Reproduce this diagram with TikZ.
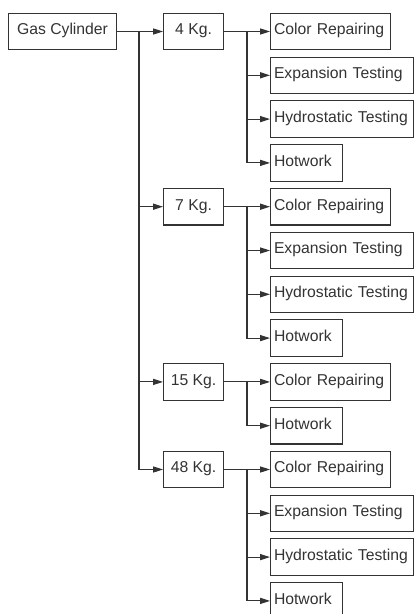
\documentclass[tikz,border=0pt]{standalone}
\usepackage{fontspec}
\setmainfont{Liberation Sans}
\usetikzlibrary{arrows.meta}
\definecolor{ink}{HTML}{333333}

\begin{document}
\begin{tikzpicture}[x=0.75pt, y=-0.75pt,
	font=\fontsize{11.8}{14}\selectfont, text=ink,
	box/.style={draw=ink, line width=0.8pt, minimum height=27.4pt, inner ysep=0pt, text height=0.72em, text depth=0.22em},
	root/.style={box, minimum width=81pt, anchor = west},
	kg/.style={box, minimum width=45pt, anchor = west},
	leaf/.style={box, anchor = west, inner xsep=2.6pt, align=left, text width=#1},
	link/.style={draw=ink, line width=0.8pt},
	arr/.style={link, -{Triangle[length=7.5pt, width=4.6pt]}}]
	\useasboundingbox (0,0) rectangle (414,614);
	% left column
	\node[root] (cyl) at (8,31.5) {Gas Cylinder};
	% weights
	\node[kg] (k4) at (163,31.5) {4 Kg.};
	\node[kg] (k7) at (163,206.7) {7 Kg.};
	\node[kg] (k15) at (163,381.9) {15 Kg.};
	\node[kg] (k48) at (163,469.5) {48 Kg.};
	% jobs for 4 Kg.
	\node[leaf=84.8pt] (c4) at (270,31.5) {Color Repairing};
	\node[leaf=102pt] (e4) at (270,75.3) {Expansion Testing};
	\node[leaf=102pt] (h4) at (270,119.1) {Hydrostatic Testing};
	\node[leaf=48.8pt] (w4) at (270,162.9) {Hotwork};
	% jobs for 7 Kg.
	\node[leaf=84.8pt] (c7) at (270,206.7) {Color Repairing};
	\node[leaf=102pt] (e7) at (270,250.5) {Expansion Testing};
	\node[leaf=102pt] (h7) at (270,294.3) {Hydrostatic Testing};
	\node[leaf=48.8pt] (w7) at (270,338.1) {Hotwork};
	% jobs for 15 Kg.
	\node[leaf=84.8pt] (c15) at (270,381.9) {Color Repairing};
	\node[leaf=48.8pt] (w15) at (270,425.7) {Hotwork};
	% jobs for 48 Kg.
	\node[leaf=84.8pt] (c48) at (270,469.5) {Color Repairing};
	\node[leaf=102pt] (e48) at (270,513.3) {Expansion Testing};
	\node[leaf=102pt] (h48) at (270,557.1) {Hydrostatic Testing};
	\node[leaf=48.8pt] (w48) at (270,600.9) {Hotwork};

	% branch points
	\coordinate (j0) at (139,31.5);
	\coordinate (j4) at (247,31.5);
	\coordinate (j7) at (247,206.7);
	\coordinate (j15) at (247,381.9);
	\coordinate (j48) at (247,469.5);

	\draw[arr] (cyl.east) -- (k4.west);
	\draw[arr] (j0) |- (k7.west);
	\draw[arr] (j0) |- (k15.west);
	\draw[arr] (j0) |- (k48.west);

	\draw[arr] (k4.east) -- (c4.west);
	\draw[arr] (j4) |- (e4.west);
	\draw[arr] (j4) |- (h4.west);
	\draw[arr] (j4) |- (w4.west);

	\draw[arr] (k7.east) -- (c7.west);
	\draw[arr] (j7) |- (e7.west);
	\draw[arr] (j7) |- (h7.west);
	\draw[arr] (j7) |- (w7.west);

	\draw[arr] (k15.east) -- (c15.west);
	\draw[arr] (j15) |- (w15.west);

	\draw[arr] (k48.east) -- (c48.west);
	\draw[arr] (j48) |- (e48.west);
	\draw[arr] (j48) |- (h48.west);
	\draw[arr] (j48) |- (w48.west);
\end{tikzpicture}
\end{document}
